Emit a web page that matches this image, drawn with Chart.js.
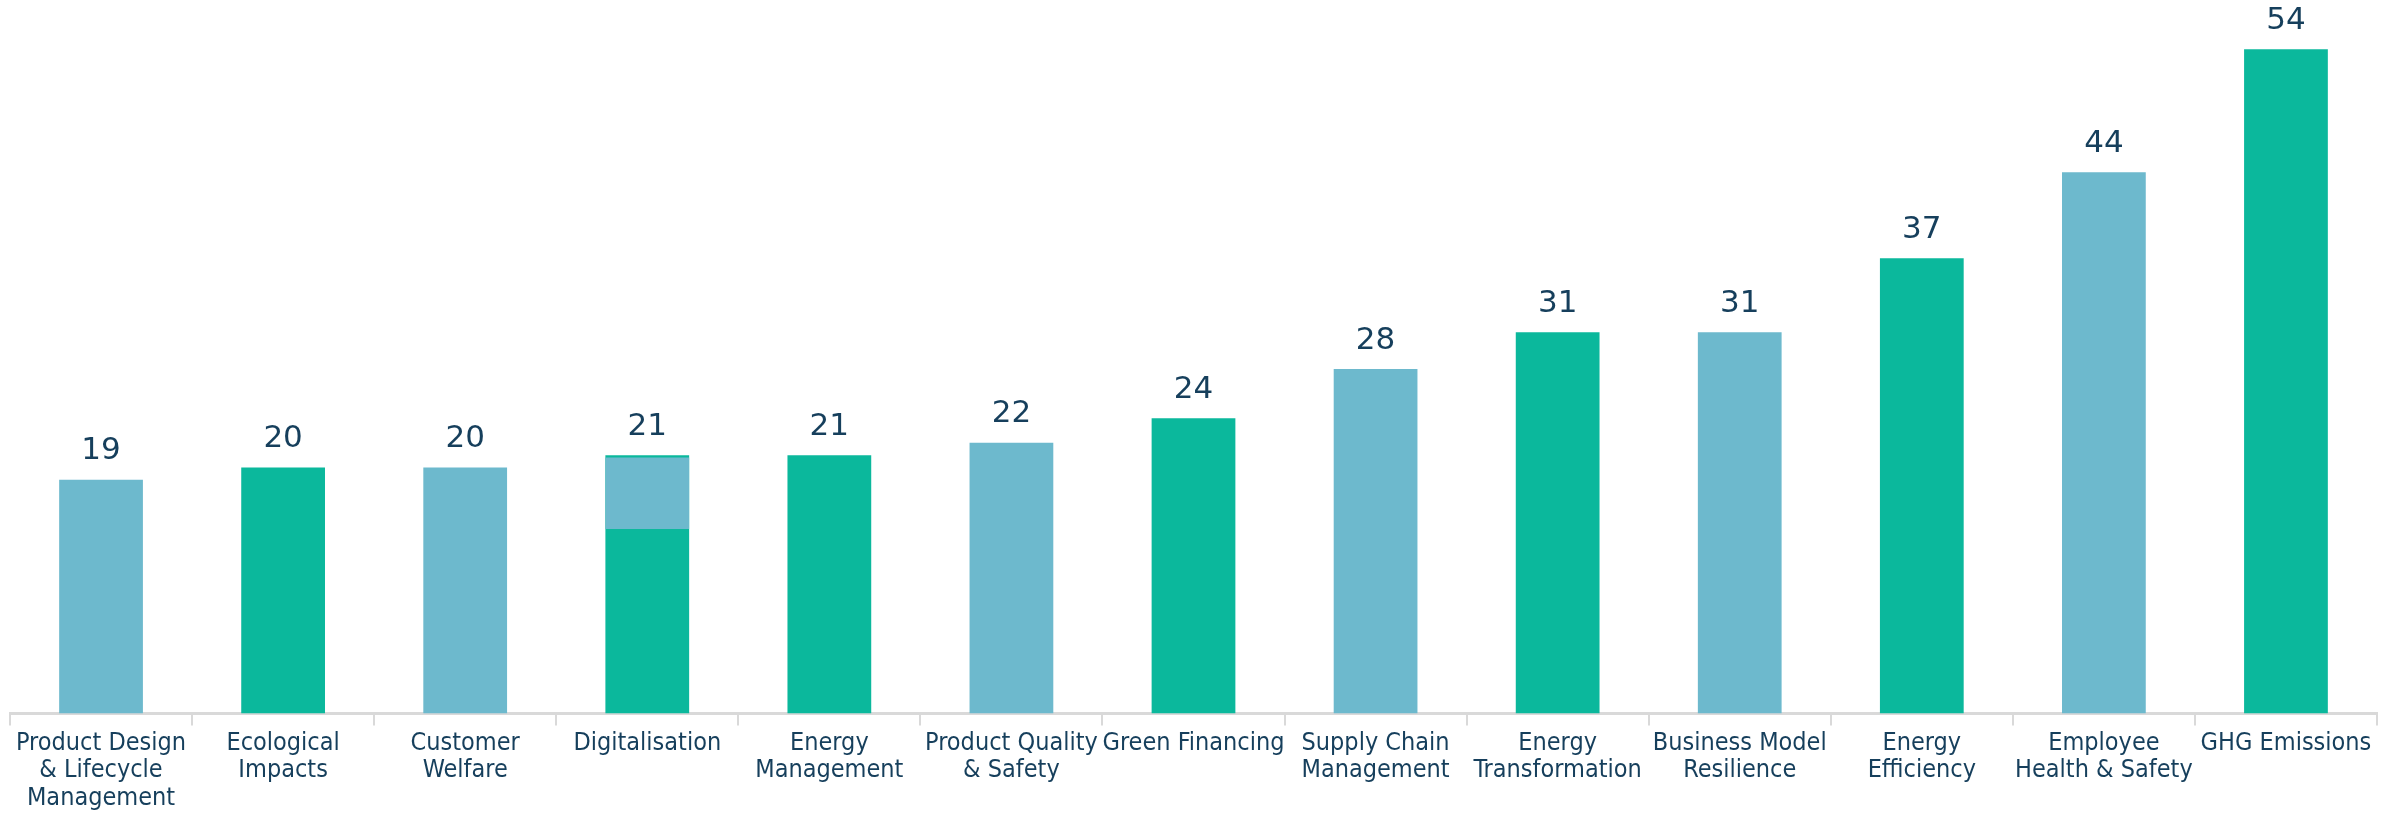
<!DOCTYPE html>
<html>
<head>
<meta charset="utf-8">
<script src="https://cdn.jsdelivr.net/npm/chart.js@4"></script>
<style>
html,body{margin:0;padding:0;background:#fff;}
#wrap{width:2395px;height:816px;position:relative;}
</style>
</head>
<body>
<div id="wrap"><canvas id="c"></canvas></div>
<script>
const categories = [
  ["Product Design","& Lifecycle","Management"],
  ["Ecological","Impacts"],
  ["Customer","Welfare"],
  ["Digitalisation"],
  ["Energy","Management"],
  ["Product Quality","& Safety"],
  ["Green Financing"],
  ["Supply Chain","Management"],
  ["Energy","Transformation"],
  ["Business Model","Resilience"],
  ["Energy","Efficiency"],
  ["Employee","Health & Safety"],
  ["GHG Emissions"]
];
const values = [19, 20, 20, 21, 21, 22, 24, 28, 31, 31, 37, 44, 54];
const colorGroup = ["blue","green","blue","green","green","blue","green","blue","green","blue","green","blue","green"];
// stray overlay block seen on the Digitalisation bar (floating range)
const overlayValues = [null, null, null, [15, 20.8], null, null, null, null, null, null, null, null, null];

const COLORS = {blue: "#6db9cd", green: "#0bb89c"};
const TEXT = "#163f5c";

const valueLabels = {
  id: "valueLabels",
  afterDatasetsDraw(chart) {
    const ctx = chart.ctx;
    const meta = chart.getDatasetMeta(0);
    ctx.save();
    ctx.font = "31px 'DejaVu Sans', sans-serif";
    ctx.fillStyle = TEXT;
    ctx.textAlign = "center";
    ctx.textBaseline = "bottom";
    meta.data.forEach((bar, i) => {
      ctx.fillText(String(values[i]), bar.x, bar.y - 13);
    });
    ctx.restore();
  }
};

new Chart(document.getElementById("c"), {
  type: "bar",
  data: {
    labels: categories,
    datasets: [
      {
        data: values,
        backgroundColor: colorGroup.map(g => COLORS[g]),
        barPercentage: 0.46,
        categoryPercentage: 1,
        grouped: false,
        order: 1
      },
      {
        data: overlayValues,
        backgroundColor: COLORS.blue,
        barPercentage: 0.46,
        categoryPercentage: 1,
        grouped: false,
        order: 0
      }
    ]
  },
  options: {
    responsive: true,
    maintainAspectRatio: false,
    animation: false,
    layout: {padding: {left: 10, right: 18, top: 0, bottom: 0}},
    plugins: {legend: {display: false}, tooltip: {enabled: false}},
    scales: {
      x: {
        stacked: false,
        grid: {
          display: true,
          offset: true,
          drawOnChartArea: false,
          drawTicks: true,
          tickLength: 12,
          color: "#d9d9d9",
          lineWidth: 2
        },
        border: {display: true, color: "#d9d9d9", width: 3},
        ticks: {
          color: TEXT,
          font: {family: "'Liberation Sans Narrow', 'DejaVu Sans Condensed', sans-serif", size: 25, lineHeight: 1.1},
          padding: 4,
          maxRotation: 0,
          autoSkip: false
        }
      },
      y: {
        display: false,
        min: 0,
        max: 58,
        grid: {display: false}
      }
    }
  },
  plugins: [valueLabels]
});
</script>
</body>
</html>
